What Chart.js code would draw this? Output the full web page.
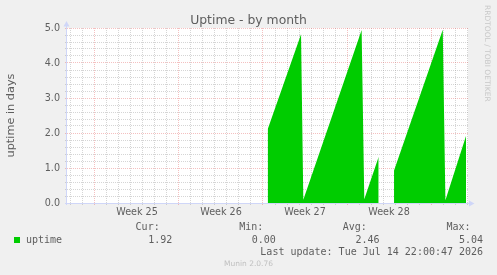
<!DOCTYPE html>
<html><head><meta charset="utf-8">
<script src="https://cdn.jsdelivr.net/npm/chart.js@4.4.1/dist/chart.umd.min.js"></script>
<style>
html,body{margin:0;padding:0;background:#f0f0f0;}
#wrap{position:relative;width:497px;height:275px;overflow:hidden;background:#f0f0f0;}
canvas{position:absolute;left:0;top:0;}
.t{position:absolute;white-space:pre;color:#5e5e5e;font-family:"DejaVu Sans";}
.m{font-family:"DejaVu Sans Mono";font-size:10px;line-height:12px;}
</style></head><body>
<div id="wrap"><canvas id="c" width="497" height="275"></canvas></div>
<script>
// ---- data (x in days, 0 = start of Week 25 boundary) ----
const chartTitle = 'Uptime - by month';
const yTitle = 'uptime in days';
const seriesName = 'uptime';
const tDays  = [14.39, 17.17, 17.36, 22.22, 22.44, 23.64, 24.30, 24.92, 28.98, 29.20, 30.92];
const uptime = [ 2.11,  4.82,  0.09,  4.94,  0.11,  1.32,  null,  0.93,  4.95,  0.08,  1.92];
const weekLabels  = ['Week 25', 'Week 26', 'Week 27', 'Week 28'];
const weekCenters = [3.5, 10.5, 17.5, 24.5];
const yMajorTicks = [0, 1, 2, 3, 4, 5];
const statNames  = ['Cur:', 'Min:', 'Avg:', 'Max:'];
const statValues = ['1.92', '0.00', '2.46', '5.04'];
const lastUpdate = 'Last update: Tue Jul 14 22:00:47 2026';
const footer = 'Munin 2.0.76';
const watermark = 'RRDTOOL / TOBI OETIKER';

const GREEN = '#00cc00';
const MINOR = 'rgba(150,150,150,0.4)';
const MAJOR = 'rgba(225,90,90,0.38)';
const AXIS = '#cfd6f8';
const FONTC = '#5e5e5e';

Chart.defaults.font.family = 'DejaVu Sans';
Chart.defaults.color = FONTC;

const wrap = document.getElementById('wrap');
function addText(txt, cls, css){
  const d = document.createElement('div');
  d.className = 't ' + (cls||'');
  d.textContent = txt;
  Object.assign(d.style, css);
  wrap.appendChild(d);
  return d;
}
addText(chartTitle, '', {left:'0px', width:'497px', textAlign:'center', top:'12.7px', fontSize:'12.4px', lineHeight:'14px'});
addText(watermark, '', {left:'482px', top:'5px', fontSize:'7.5px', lineHeight:'10px', writingMode:'vertical-rl', color:'#c8c8c8'});
// legend
const sw = document.createElement('div');
Object.assign(sw.style, {position:'absolute', left:'14px', top:'237px', width:'6px', height:'6px', background:GREEN});
wrap.appendChild(sw);
addText(seriesName, 'm', {left:'26px', top:'233.8px'});
statNames.forEach((s,i)=>{
  addText(s, 'm', {left:(135.6 + i*103.6)+'px', top:'221.2px'});
  addText(statValues[i], 'm', {left:(148.2 + i*103.6)+'px', top:'233.8px'});
});
addText(lastUpdate, 'm', {right:'13.9px', top:'245.8px'});
addText(footer, '', {left:'0px', width:'497px', textAlign:'center', top:'259.4px', fontSize:'7.5px', lineHeight:'10px', color:'#c0c0c0'});

const isInt = v => Math.abs(v - Math.round(v)) < 1e-6;

const bgPlugin = {
  id:'bg',
  beforeDraw(chart){
    const {ctx, chartArea:a} = chart;
    ctx.save(); ctx.fillStyle = '#ffffff';
    ctx.fillRect(a.left, a.top, a.right-a.left, a.bottom-a.top);
    ctx.restore();
  }
};
const axisPlugin = {
  id:'axes',
  afterDraw(chart){
    const {ctx, chartArea:a} = chart;
    ctx.save();
    ctx.strokeStyle = AXIS; ctx.fillStyle = AXIS; ctx.lineWidth = 1;
    const lx = a.left - 0.5, by = a.bottom + 0.5;
    ctx.beginPath();
    ctx.moveTo(lx, a.bottom + 2); ctx.lineTo(lx, a.top - 3);
    ctx.moveTo(a.left - 2, by); ctx.lineTo(a.right + 3, by);
    ctx.stroke();
    ctx.beginPath();
    ctx.moveTo(lx - 3, a.top - 1.5); ctx.lineTo(lx + 3, a.top - 1.5); ctx.lineTo(lx, a.top - 7); ctx.closePath(); ctx.fill();
    ctx.beginPath();
    ctx.moveTo(a.right + 1, by - 3); ctx.lineTo(a.right + 1, by + 3); ctx.lineTo(a.right + 6.5, by); ctx.closePath(); ctx.fill();
    ctx.restore();
  }
};

new Chart(document.getElementById('c'), {
  type:'line',
  data:{
    datasets:[{
      label: seriesName,
      data: tDays.map((t,i)=>({x:t, y:uptime[i]})),
      backgroundColor: GREEN,
      borderColor: 'rgba(0,0,0,0)',
      borderWidth: 0,
      pointRadius: 0,
      tension: 0,
      fill: 'origin',
      spanGaps: false
    }]
  },
  options:{
    responsive:false,
    animation:false,
    devicePixelRatio:1,
    layout:{padding:{top:28, right:29, bottom:0, left:0}},
    plugins:{legend:{display:false}, title:{display:false}, tooltip:{enabled:false}},
    scales:{
      x:{
        type:'linear', min:-2.3333, max:31.0833,
        afterFit(s){ s.height = 72; },
        afterBuildTicks(s){
          const vals = [];
          for (let d = -2; d <= 31; d++) vals.push(d);
          weekCenters.forEach(c=>vals.push(c));
          vals.sort((a,b)=>a-b);
          s.ticks = vals.map(v=>({value:v}));
        },
        ticks:{
          autoSkip:false, maxRotation:0, padding:2,
          font:{size:9.6},
          color:FONTC,
          callback(v){ const k = weekCenters.indexOf(v); return k >= 0 ? weekLabels[k] : ''; }
        },
        grid:{
          drawTicks:true, tickLength:2,
          color(ctx){ const v = ctx.tick ? ctx.tick.value : 0; if (!isInt(v)) return 'rgba(0,0,0,0)'; return (Math.round(v) % 7 === 0) ? MAJOR : MINOR; },
          tickColor(ctx){ const v = ctx.tick ? ctx.tick.value : 0; if (!isInt(v)) return 'rgba(0,0,0,0)'; return (Math.round(v) % 7 === 0) ? MAJOR : MINOR; },
          lineWidth:1
        },
        border:{display:false, dash:[1,1]}
      },
      y:{
        type:'linear', min:0, max:5,
        afterFit(s){ s.width = 67; },
        afterBuildTicks(s){
          const vals = [];
          for (let i = 0; i <= 25; i++) vals.push(i/5);
          s.ticks = vals.map(v=>({value:v}));
        },
        ticks:{
          autoSkip:false, padding:5, font:{size:9.6}, color:FONTC,
          callback(v){ return yMajorTicks.some(m=>Math.abs(m-v)<1e-6) ? v.toFixed(1) : ''; }
        },
        title:{display:true, text:yTitle, font:{size:11.3}, color:FONTC, padding:{top:4,bottom:4}},
        grid:{
          drawTicks:true, tickLength:2,
          color(ctx){ const v = ctx.tick ? ctx.tick.value : 0; return isInt(v) ? MAJOR : MINOR; },
          tickColor(ctx){ const v = ctx.tick ? ctx.tick.value : 0; return isInt(v) ? MAJOR : MINOR; },
          lineWidth:1
        },
        border:{display:false, dash:[1,1]}
      }
    }
  },
  plugins:[bgPlugin, axisPlugin]
});
</script>
</body></html>
